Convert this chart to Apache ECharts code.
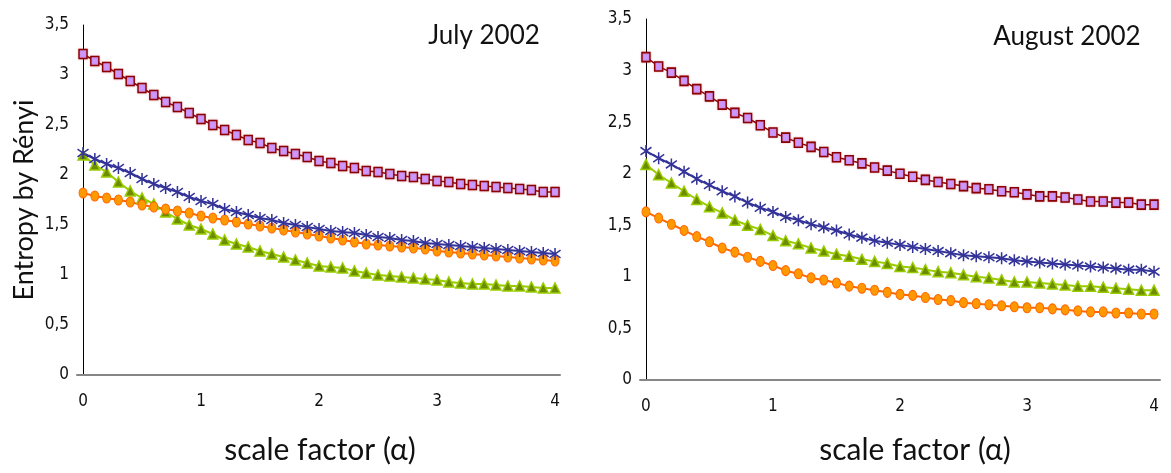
<!DOCTYPE html>
<html>
<head>
<meta charset="utf-8">
<script src="https://cdn.jsdelivr.net/npm/echarts@6/dist/echarts.min.js"></script>
<style>
html,body{margin:0;padding:0;background:#fff;}
#chart{width:1171px;height:473px;}
</style>
</head>
<body>
<div id="chart"></div>
<script>
// scale factor alpha
var alphas = [0,0.1,0.2,0.3,0.4,0.5,0.6,0.7,0.8,0.9,1,1.1,1.2,1.3,1.4,1.5,1.6,1.7,1.8,1.9,2,2.1,2.2,2.3,2.4,2.5,2.6,2.7,2.8,2.9,3,3.1,3.2,3.3,3.4,3.5,3.6,3.7,3.8,3.9,4];

// July 2002
var julyPink   = [3.21,3.14,3.08,3.01,2.94,2.87,2.80,2.73,2.68,2.62,2.56,2.50,2.45,2.40,2.35,2.32,2.27,2.24,2.21,2.18,2.14,2.12,2.09,2.07,2.04,2.03,2.01,1.99,1.98,1.96,1.94,1.93,1.91,1.90,1.89,1.88,1.87,1.86,1.85,1.83,1.83];
var julyBlue   = [2.22,2.16,2.11,2.07,2.02,1.96,1.91,1.87,1.83,1.78,1.74,1.71,1.66,1.63,1.60,1.57,1.55,1.52,1.50,1.48,1.46,1.44,1.43,1.42,1.40,1.38,1.37,1.35,1.34,1.32,1.31,1.30,1.29,1.28,1.27,1.26,1.25,1.24,1.23,1.22,1.21];
var julyGreen  = [2.20,2.10,2.03,1.93,1.84,1.77,1.71,1.63,1.56,1.50,1.46,1.41,1.35,1.31,1.28,1.24,1.21,1.18,1.15,1.12,1.09,1.08,1.07,1.04,1.02,1.00,0.99,0.98,0.97,0.96,0.95,0.93,0.92,0.91,0.91,0.90,0.89,0.89,0.88,0.87,0.87];
var julyOrange = [1.82,1.79,1.77,1.75,1.73,1.70,1.68,1.66,1.64,1.62,1.59,1.57,1.55,1.53,1.51,1.49,1.47,1.45,1.43,1.41,1.39,1.37,1.35,1.33,1.31,1.30,1.29,1.28,1.27,1.26,1.24,1.23,1.22,1.21,1.20,1.19,1.18,1.17,1.16,1.15,1.14];

// August 2002
var augPink   = [3.13,3.04,2.98,2.90,2.82,2.75,2.67,2.59,2.54,2.47,2.40,2.35,2.30,2.26,2.21,2.16,2.13,2.10,2.06,2.03,2.00,1.97,1.94,1.92,1.90,1.88,1.86,1.85,1.83,1.82,1.80,1.78,1.78,1.77,1.75,1.73,1.73,1.72,1.72,1.70,1.70];
var augBlue   = [2.22,2.15,2.09,2.02,1.95,1.89,1.83,1.78,1.72,1.67,1.63,1.58,1.55,1.51,1.48,1.45,1.41,1.38,1.35,1.33,1.31,1.29,1.27,1.25,1.23,1.21,1.20,1.19,1.18,1.16,1.15,1.14,1.13,1.12,1.11,1.10,1.09,1.08,1.07,1.07,1.05];
var augGreen  = [2.09,1.99,1.91,1.83,1.75,1.68,1.62,1.55,1.50,1.46,1.40,1.35,1.32,1.28,1.25,1.22,1.20,1.17,1.15,1.13,1.10,1.09,1.07,1.05,1.04,1.02,1.00,0.99,0.97,0.95,0.95,0.94,0.93,0.92,0.91,0.91,0.90,0.89,0.88,0.87,0.87];
var augOrange = [1.63,1.57,1.51,1.45,1.39,1.34,1.28,1.24,1.19,1.15,1.11,1.06,1.03,0.99,0.97,0.94,0.91,0.89,0.87,0.85,0.83,0.82,0.80,0.78,0.77,0.75,0.74,0.73,0.72,0.71,0.70,0.70,0.69,0.68,0.67,0.66,0.66,0.65,0.65,0.64,0.64];

// tick labels
var xTickValues = [0,1,2,3,4];
var xTickLabels = ['0','1','2','3','4'];
var yTickValues = [0,0.5,1,1.5,2,2.5,3,3.5];
var yTickLabels = ['0','0,5','1','1,5','2','2,5','3','3,5'];

var panelTitles = ['July 2002','August 2002'];
var xAxisTitle = 'scale factor (\u03B1)';
var yAxisTitle = 'Entropy by R\u00E9nyi';

function pairs(vals){ return alphas.map(function(a,i){ return [a, vals[i]]; }); }

var tickFont = "'Liberation Sans Narrow','DejaVu Sans Condensed','Liberation Sans',sans-serif";
var textFont = "Lato,'Open Sans',sans-serif";

function xAxisCfg(idx, min, max){
  return {
    gridIndex: idx, type: 'value', min: min, max: max,
    axisLine: {show: true, lineStyle: {color: '#868686', width: 2}},
    axisTick: {show: false},
    splitLine: {show: false},
    axisLabel: {
      customValues: xTickValues, margin: 18,
      fontFamily: tickFont, fontSize: 17, color: '#111',
      formatter: function(v){ var k = xTickValues.indexOf(Math.round(v*1000)/1000); return k >= 0 ? xTickLabels[k] : ''; }
    }
  };
}
function yAxisCfg(idx){
  return {
    gridIndex: idx, type: 'value', min: 0, max: 3.5, interval: 0.5,
    axisLine: {show: true, lineStyle: {color: '#000', width: 1}},
    axisTick: {show: false},
    splitLine: {show: false},
    axisLabel: {
      margin: 8, fontFamily: tickFont, fontSize: 17, color: '#111',
      formatter: function(v){ var k = yTickValues.indexOf(Math.round(v*1000)/1000); return k >= 0 ? yTickLabels[k] : ''; }
    }
  };
}

var starPath = 'path://M5,0L5,10M0.8,1.8L9.2,8.2M0.8,8.2L9.2,1.8';

function seriesSet(idx, pink, blue, green, orange){
  return [
    {type:'line', xAxisIndex: idx, yAxisIndex: idx, data: pairs(pink),
     symbol:'rect', symbolSize:[8,9], showAllSymbol:true,
     lineStyle:{color:'#8B0000', width:1.5},
     itemStyle:{color:'#CC99FF', borderColor:'#8B0000', borderWidth:1.5, shadowColor:'rgba(200,80,100,0.45)', shadowBlur:2}},
    {type:'line', xAxisIndex: idx, yAxisIndex: idx, data: pairs(green),
     symbol:'triangle', symbolSize:[10,10], showAllSymbol:true,
     lineStyle:{color:'#99CC00', width:2},
     itemStyle:{color:'#6E8C00', borderColor:'#99CC00', borderWidth:1.5}},
    {type:'line', xAxisIndex: idx, yAxisIndex: idx, data: pairs(orange),
     symbol:'circle', symbolSize:[8,10], showAllSymbol:true,
     lineStyle:{color:'#FF6600', width:2},
     itemStyle:{color:'#FF9900', borderColor:'#FF6600', borderWidth:1}},
    {type:'line', xAxisIndex: idx, yAxisIndex: idx, data: pairs(blue),
     symbol: starPath, symbolSize:[11,12], showAllSymbol:true,
     lineStyle:{color:'#333399', width:2},
     itemStyle:{color:'rgba(0,0,0,0)', borderColor:'#333399', borderWidth:1.6}}
  ];
}

var chart = echarts.init(document.getElementById('chart'), null, {renderer:'canvas'});
chart.setOption({
  animation: false,
  backgroundColor: '#fff',
  grid: [
    {left: 77, top: 25, width: 483, height: 350},
    {left: 640, top: 19, width: 520, height: 361}
  ],
  xAxis: [xAxisCfg(0, -0.051, 4.042), xAxisCfg(1, -0.047, 4.047)],
  yAxis: [yAxisCfg(0), yAxisCfg(1)],
  series: seriesSet(0, julyPink, julyBlue, julyGreen, julyOrange)
          .concat(seriesSet(1, augPink, augBlue, augGreen, augOrange)),
  graphic: [
    {type:'text', x: 484, y: 36, style:{text: panelTitles[0], font: "26px " + textFont, fill:'#111', align:'center', verticalAlign:'middle'}},
    {type:'text', x: 1067, y: 37, style:{text: panelTitles[1], font: "26px " + textFont, fill:'#111', align:'center', verticalAlign:'middle'}},
    {type:'text', x: 320, y: 450, style:{text: xAxisTitle, font: "30px " + textFont, fill:'#111', align:'center', verticalAlign:'middle'}},
    {type:'text', x: 915, y: 450, style:{text: xAxisTitle, font: "30px " + textFont, fill:'#111', align:'center', verticalAlign:'middle'}},
    {type:'text', x: 24, y: 200, rotation: Math.PI/2, style:{text: yAxisTitle, font: "27px " + textFont, fill:'#111', align:'center', verticalAlign:'middle'}}
  ]
});
</script>
</body>
</html>
